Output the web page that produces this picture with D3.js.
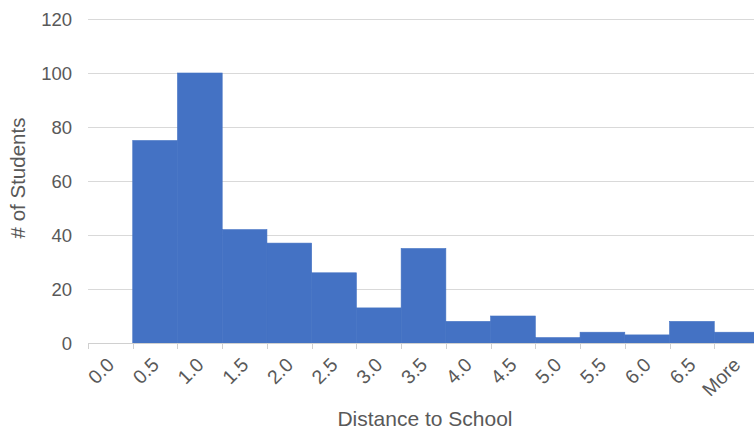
<!DOCTYPE html>
<html>
<head>
<meta charset="utf-8">
<script src="https://cdn.jsdelivr.net/npm/d3@7"></script>
<style>
  body { margin: 0; background: #fff; }
  svg { display: block; font-family: "Liberation Sans", Arial, sans-serif; }
</style>
</head>
<body>
<svg width="754" height="430"></svg>
<script>
var categories = ["0.0", "0.5", "1.0", "1.5", "2.0", "2.5", "3.0", "3.5", "4.0", "4.5", "5.0", "5.5", "6.0", "6.5", "More"];
var students = [0, 75, 100, 42, 37, 26, 13, 35, 8, 10, 2, 4, 3, 8, 4];
var yTicks = [0, 20, 40, 60, 80, 100, 120];

var svg = d3.select('svg');
var textColor = '#595959';

var x = d3.scaleBand()
    .domain(categories)
    .range([88, 759])
    .padding(0);

var y = d3.scaleLinear()
    .domain([0, 120])
    .range([343, 19]);

// gridlines
svg.append('g')
    .selectAll('line')
    .data(yTicks.filter(function(d) { return d > 0; }))
    .enter()
    .append('line')
    .attr('x1', 88)
    .attr('x2', 754)
    .attr('y1', function(d) { return y(d) + 0.5; })
    .attr('y2', function(d) { return y(d) + 0.5; })
    .attr('stroke', '#d9d9d9')
    .attr('stroke-width', 1);

// bars (small stroke hides seams between adjacent bars)
svg.append('g')
    .selectAll('rect')
    .data(students)
    .enter()
    .append('rect')
    .attr('x', function(d, i) { return x(categories[i]); })
    .attr('width', x.bandwidth())
    .attr('y', function(d) { return y(d); })
    .attr('height', function(d) { return y(0) - y(d); })
    .attr('fill', '#4472c4')
    .attr('stroke', function(d) { return d > 0 ? '#4472c4' : 'none'; })
    .attr('stroke-width', 0.6);

// x axis line and ticks
var xAxis = svg.append('g');
xAxis.append('line')
    .attr('x1', 88)
    .attr('x2', 754)
    .attr('y1', y(0) + 0.5)
    .attr('y2', y(0) + 0.5)
    .attr('stroke', '#d0d0d0');

xAxis.selectAll('line.tick')
    .data(categories)
    .enter()
    .append('line')
    .attr('class', 'tick')
    .attr('x1', function(d) { return Math.round(x(d)) + 0.5; })
    .attr('x2', function(d) { return Math.round(x(d)) + 0.5; })
    .attr('y1', y(0))
    .attr('y2', y(0) + 6)
    .attr('stroke', '#d0d0d0');

xAxis.selectAll('text')
    .data(categories)
    .enter()
    .append('text')
    .attr('transform', function(d) {
        return 'translate(' + (x(d) + x.bandwidth() / 2 + 5) + ',366) rotate(-45)';
    })
    .attr('text-anchor', 'end')
    .attr('font-size', 19.5)
    .attr('fill', textColor)
    .text(function(d) { return d; });

// y tick labels
svg.append('g')
    .selectAll('text')
    .data(yTicks)
    .enter()
    .append('text')
    .attr('x', 72)
    .attr('y', function(d) { return y(d) + 6.5; })
    .attr('text-anchor', 'end')
    .attr('font-size', 18.5)
    .attr('fill', textColor)
    .text(function(d) { return d; });

// axis titles
svg.append('text')
    .attr('x', 425)
    .attr('y', 426)
    .attr('text-anchor', 'middle')
    .attr('font-size', 21)
    .attr('fill', textColor)
    .text('Distance to School');

svg.append('text')
    .attr('transform', 'translate(25,178) rotate(-90)')
    .attr('text-anchor', 'middle')
    .attr('font-size', 20.5)
    .attr('fill', textColor)
    .text('# of Students');
</script>
</body>
</html>
